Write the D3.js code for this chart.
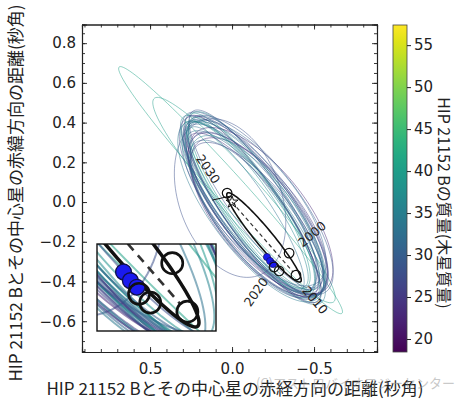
<!DOCTYPE html>
<meta charset="utf-8">
<style type="text/css">
    body { margin: 0; background: #ffffff; }
    text { font-family: "DejaVu Sans", sans-serif; }
    .jp { font-family: "Noto Sans CJK JP", sans-serif; }
</style>
<svg width="457" height="401"></svg>
<script type="text/javascript" src="https://cdn.jsdelivr.net/npm/d3@7"></script>
<script type="text/javascript">

    // tick values
    const xTickValues = [0.5, 0.0, -0.5];
    const yTickValues = [-0.6, -0.4, -0.2, 0.0, 0.2, 0.4, 0.6, 0.8];
    const massTickValues = [20, 25, 30, 35, 40, 45, 50, 55];
    const massDomain = [18.45, 57.4];

    // sampled orbits: centre (arcsec), semi axes (arcsec), angle (deg), mass (Mjup)
    const orbitCx = [0.009, -0.073, 0.012, -0.135, -0.115, -0.155, -0.125, -0.145, -0.105, -0.165, -0.135, -0.095, -0.145, -0.125, -0.175, -0.115, -0.155, -0.135, -0.085, -0.165, -0.125, -0.145,
                     -0.115, -0.145, -0.105, -0.155, -0.125, -0.135, -0.095, -0.165, -0.115, -0.135];
    const orbitCy = [0.060, 0.010, 0.020, -0.045, -0.025, -0.065, -0.015, -0.035, -0.005, -0.075, -0.055, -0.015, -0.025, -0.085, -0.045, -0.035, -0.095, 0.005, -0.035, -0.015, -0.065, -0.005,
                     -0.015, -0.055, 0.005, -0.075, -0.035, -0.005, -0.025, -0.055, -0.045, 0.015];
    const orbitA = [0.92, 0.75, 0.43, 0.58, 0.56, 0.55, 0.60, 0.58, 0.55, 0.53, 0.61, 0.54, 0.59, 0.52, 0.56, 0.62, 0.53, 0.58, 0.53, 0.60, 0.55, 0.57,
                    0.59, 0.57, 0.58, 0.54, 0.61, 0.56, 0.57, 0.55, 0.60, 0.58];
    const orbitB = [0.082, 0.12, 0.30, 0.19, 0.16, 0.22, 0.15, 0.20, 0.15, 0.23, 0.17, 0.14, 0.21, 0.19, 0.24, 0.15, 0.20, 0.16, 0.13, 0.22, 0.17, 0.19,
                    0.21, 0.17, 0.19, 0.21, 0.16, 0.23, 0.17, 0.20, 0.22, 0.15];
    const orbitAngle = [42.3, 42.8, 58.8, 46, 48, 44, 49, 46, 50, 43, 47, 49, 45, 46, 43, 48, 44, 49, 50, 45, 46, 47,
                        46, 44, 48, 45, 49, 43, 47, 44, 46, 49];
    const orbitMass = [41, 40, 28, 30, 35, 26, 37, 32, 39, 24, 34, 36, 28, 31, 23, 36, 27, 38, 33, 29, 25, 30,
                       27, 33, 29, 35, 24, 31, 37, 26, 34, 28];

    // best fit orbit (black)
    const fitOrbit = [-0.195, -0.178, 0.316, 0.048, 44.7]; // cx, cy, a, b, angle

    // predicted positions
    const epochLabels = ["2000", "2010", "2020", "2030"];
    const epochX = [-0.348, -0.390, -0.256, 0.030];
    const epochY = [-0.257, -0.368, -0.327, 0.045];
    const extraEpochX = [-0.287];
    const extraEpochY = [-0.347];

    // observed positions (blue)
    const obsX = [-0.213, -0.232, -0.250];
    const obsY = [-0.277, -0.297, -0.312];

    var svg = d3.select("svg");
    var pLeft = 82, pRight = 377, pTop = 24.5, pBottom = 352;

    var x = d3.scaleLinear().domain([0.915, -0.884]).range([pLeft, pRight]);
    var y = d3.scaleLinear().domain([0.894, -0.755]).range([pTop, pBottom]);
    var massColor = d3.scaleSequential(d3.interpolateViridis).domain(massDomain);

    function ellipsePoints(cx, cy, a, b, ang) {
        let th = ang * Math.PI / 180, pts = [];
        for (let k = 0; k < 120; k++) {
            let t = k / 120 * 2 * Math.PI;
            pts.push([cx + a * Math.cos(t) * Math.cos(th) - b * Math.sin(t) * Math.sin(th),
                      cy + a * Math.cos(t) * Math.sin(th) + b * Math.sin(t) * Math.cos(th)]);
        }
        return pts;
    }
    var ellipseLine = d3.line().x(d => x(d[0])).y(d => y(d[1])).curve(d3.curveLinearClosed);

    var defs = svg.append("defs");
    defs.append("clipPath").attr("id", "plotClip").append("rect")
        .attr("x", pLeft).attr("y", pTop).attr("width", pRight - pLeft).attr("height", pBottom - pTop);
    defs.append("clipPath").attr("id", "insetClip").append("rect")
        .attr("x", 97).attr("y", 244).attr("width", 119).attr("height", 87);

    function drawContent(g) {
        g.selectAll("path.orbit")
            .data(orbitCx.map((d, i) => i))
            .enter().append("path")
            .attr("class", "orbit")
            .attr("d", i => ellipseLine(ellipsePoints(orbitCx[i], orbitCy[i], orbitA[i], orbitB[i], orbitAngle[i])))
            .attr("fill", "none")
            .attr("stroke", i => massColor(orbitMass[i]))
            .attr("stroke-opacity", 0.55)
            .attr("stroke-width", 0.9);

        // line from star toward periastron
        g.append("line")
            .attr("x1", x(0)).attr("y1", y(0))
            .attr("x2", x(-0.37)).attr("y2", y(-0.35))
            .attr("stroke", "#333").attr("stroke-width", 1.2)
            .attr("stroke-dasharray", "4,3");

        g.append("path")
            .attr("d", ellipseLine(ellipsePoints(fitOrbit[0], fitOrbit[1], fitOrbit[2], fitOrbit[3], fitOrbit[4])))
            .attr("fill", "none").attr("stroke", "#111").attr("stroke-width", 1.6);

        // star
        g.append("path")
            .attr("d", d3.symbol().type(d3.symbolStar).size(45)())
            .attr("transform", "translate(" + x(0) + "," + y(0) + ")")
            .attr("fill", "none").attr("stroke", "#111").attr("stroke-width", 1);
        g.append("line")
            .attr("x1", x(0.12)).attr("y1", y(0.01))
            .attr("x2", x(0.01)).attr("y2", y(0.03))
            .attr("stroke", "#111").attr("stroke-width", 1);

        g.selectAll("circle.obs")
            .data(obsX.map((d, i) => i))
            .enter().append("circle")
            .attr("class", "obs")
            .attr("cx", i => x(obsX[i])).attr("cy", i => y(obsY[i]))
            .attr("r", 3.6)
            .attr("fill", "#1a1aef").attr("stroke", "#10104a").attr("stroke-width", 0.6);

        var allX = epochX.concat(extraEpochX), allY = epochY.concat(extraEpochY);
        g.selectAll("circle.epoch")
            .data(allX.map((d, i) => i))
            .enter().append("circle")
            .attr("class", "epoch")
            .attr("cx", i => x(allX[i])).attr("cy", i => y(allY[i]))
            .attr("r", 4.8)
            .attr("fill", "none").attr("stroke", "#111").attr("stroke-width", 1.2);
    }

    var mainG = svg.append("g").attr("clip-path", "url(#plotClip)");
    drawContent(mainG);

    // year labels
    var labelOffset = [[23, -19, -40], [19, 25, 50], [-18, 25, -55], [-19, -24, 55]];
    svg.selectAll("text.year")
        .data(epochLabels.map((d, i) => i))
        .enter().append("text")
        .attr("class", "year")
        .attr("transform", i => "translate(" + (x(epochX[i]) + labelOffset[i][0]) + "," + (y(epochY[i]) + labelOffset[i][1]) + ") rotate(" + labelOffset[i][2] + ")")
        .attr("text-anchor", "middle").attr("dy", "0.35em")
        .attr("font-size", 12.5).attr("fill", "#222")
        .text(i => epochLabels[i]);

    // inset
    svg.append("rect").attr("x", 97).attr("y", 244).attr("width", 119).attr("height", 87)
        .attr("fill", "#fff");
    var insetG = svg.append("g").attr("clip-path", "url(#insetClip)")
        .append("g").attr("transform", "translate(172,263) scale(2.2) translate(-289,-253)");
    drawContent(insetG);
    svg.append("rect").attr("x", 97).attr("y", 244).attr("width", 119).attr("height", 87)
        .attr("fill", "none").attr("stroke", "#111").attr("stroke-width", 1.4);

    // axes with inward ticks
    function minorTicks(domain, step) {
        let lo = Math.min(domain[0], domain[1]), hi = Math.max(domain[0], domain[1]);
        let out = [];
        for (let v = Math.ceil(lo / step) * step; v <= hi + 1e-9; v += step) out.push(+v.toFixed(3));
        return out;
    }
    var fmt = d => d3.format(".1f")(d).replace("-", "\u2212");

    svg.append("g").attr("transform", "translate(0," + pBottom + ")")
        .call(d3.axisBottom(x).tickValues(xTickValues).tickSize(-5).tickPadding(11).tickFormat(fmt));
    svg.append("g").attr("transform", "translate(0," + pBottom + ")")
        .call(d3.axisBottom(x).tickValues(minorTicks(x.domain(), 0.1)).tickSize(-3).tickFormat(""));
    svg.append("g").attr("transform", "translate(0," + pTop + ")")
        .call(d3.axisTop(x).tickValues(xTickValues).tickSize(-5).tickFormat(""));
    svg.append("g").attr("transform", "translate(0," + pTop + ")")
        .call(d3.axisTop(x).tickValues(minorTicks(x.domain(), 0.1)).tickSize(-3).tickFormat(""));

    svg.append("g").attr("transform", "translate(" + pLeft + ",0)")
        .call(d3.axisLeft(y).tickValues(yTickValues).tickSize(-5).tickPadding(6).tickFormat(fmt));
    svg.append("g").attr("transform", "translate(" + pLeft + ",0)")
        .call(d3.axisLeft(y).tickValues(minorTicks(y.domain(), 0.05)).tickSize(-3).tickFormat(""));
    svg.append("g").attr("transform", "translate(" + pRight + ",0)")
        .call(d3.axisRight(y).tickValues(yTickValues).tickSize(-5).tickFormat(""));
    svg.append("g").attr("transform", "translate(" + pRight + ",0)")
        .call(d3.axisRight(y).tickValues(minorTicks(y.domain(), 0.05)).tickSize(-3).tickFormat(""));

    svg.selectAll(".domain").attr("stroke", "#222").attr("stroke-width", 1.1);
    svg.selectAll(".tick line").attr("stroke", "#222").attr("stroke-width", 0.9);
    svg.selectAll(".tick text").attr("font-size", 15).attr("fill", "#222")
        .style("font-family", "DejaVu Sans, sans-serif");

    // colorbar
    var cbX = 393, cbW = 14;
    var cb = d3.scaleLinear().domain(massDomain).range([352, 25]);
    var grad = defs.append("linearGradient").attr("id", "viridis")
        .attr("x1", 0).attr("y1", 1).attr("x2", 0).attr("y2", 0);
    d3.range(0, 1.0001, 0.05).forEach(t => {
        grad.append("stop").attr("offset", t).attr("stop-color", d3.interpolateViridis(t));
    });
    svg.append("rect").attr("x", cbX).attr("y", 25).attr("width", cbW).attr("height", 327)
        .attr("fill", "url(#viridis)").attr("stroke", "#444").attr("stroke-width", 0.8);
    svg.append("g").attr("transform", "translate(" + (cbX + cbW) + ",0)")
        .call(d3.axisRight(cb).tickValues(massTickValues).tickSize(4).tickPadding(3))
        .call(g => g.select(".domain").remove())
        .call(g => g.selectAll("text").attr("font-size", 15).attr("fill", "#222"))
        .call(g => g.selectAll("line").attr("stroke", "#222"));

    // labels
    svg.append("text").attr("class", "jp")
        .attr("transform", "translate(22,193) rotate(-90)")
        .attr("text-anchor", "middle").attr("font-size", 17).attr("fill", "#222")
        .text("HIP 21152 Bとその中心星の赤緯方向の距離(秒角)");
    svg.append("text").attr("class", "jp")
        .attr("x", 235).attr("y", 395)
        .attr("text-anchor", "middle").attr("font-size", 17).attr("fill", "#222")
        .text("HIP 21152 Bとその中心星の赤経方向の距離(秒角)");
    svg.append("text").attr("class", "jp")
        .attr("transform", "translate(438,203) rotate(90)")
        .attr("text-anchor", "middle").attr("font-size", 16).attr("fill", "#222")
        .text("HIP 21152 Bの質量(木星質量)");

    // watermark
    svg.append("text").attr("class", "jp")
        .attr("x", 455).attr("y", 388)
        .attr("text-anchor", "end").attr("font-size", 13)
        .attr("fill", "#9a9a9a").attr("fill-opacity", 0.55)
        .text("(C)アストロバイオロジーセンター");

</script>
